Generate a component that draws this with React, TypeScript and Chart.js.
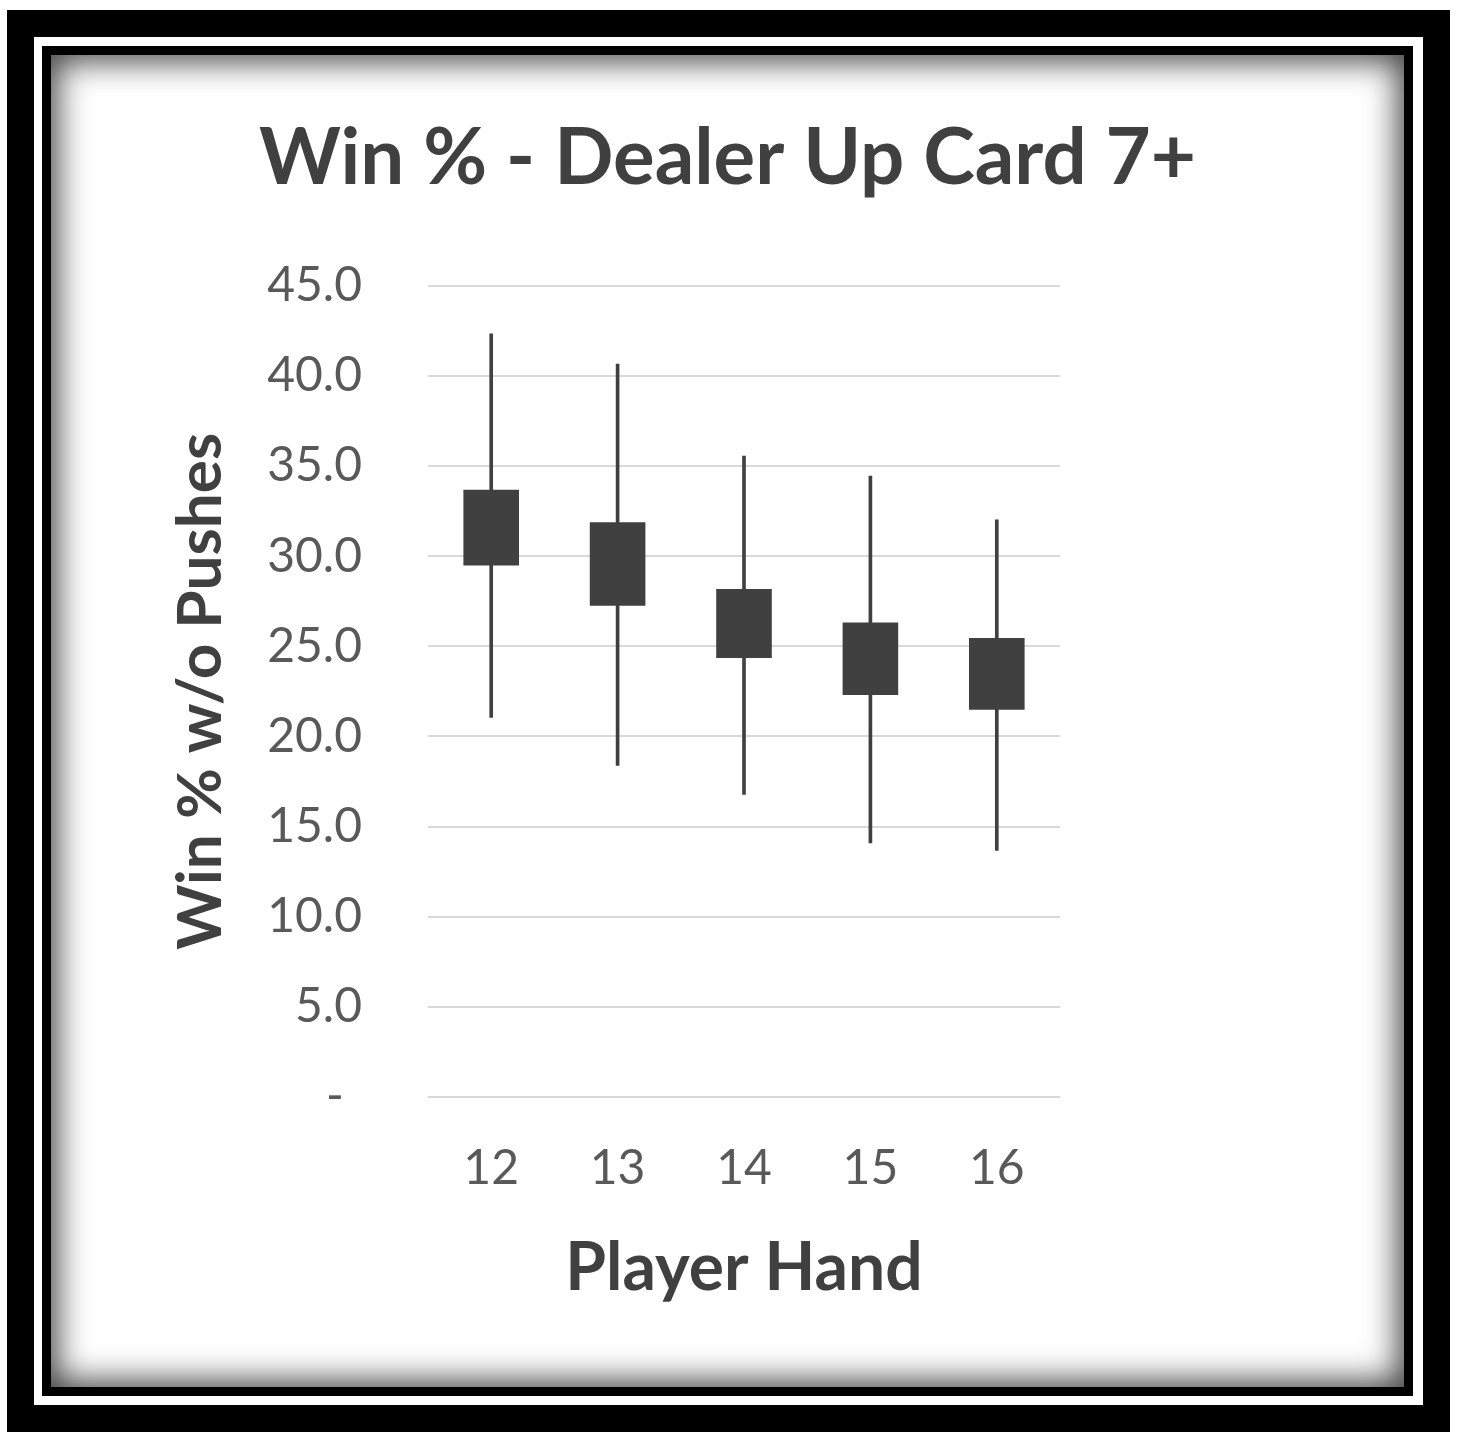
import { useEffect, useRef } from 'react';
import { Chart, registerables } from 'chart.js';

Chart.register(...registerables);

const hands = ['12', '13', '14', '15', '16'];
const boxLow = [29.47, 27.24, 24.34, 22.3, 21.48];
const boxHigh = [33.68, 31.88, 28.17, 26.31, 25.46];
const whiskerLow = [21.05, 18.39, 16.78, 14.09, 13.67];
const whiskerHigh = [42.32, 40.65, 35.55, 34.43, 32.01];

const INK = '#404040';
const TICK = '#595959';

function CandleChart() {
  const chartRef = useRef<HTMLCanvasElement>(null);
  const chartInstanceRef = useRef<Chart | null>(null);

  useEffect(() => {
    if (!chartRef.current) return;
    const ctx = chartRef.current.getContext('2d');
    if (!ctx) return;

    if (chartInstanceRef.current) {
      chartInstanceRef.current.destroy();
    }

    chartInstanceRef.current = new Chart(ctx, {
      type: 'bar',
      data: {
        labels: hands,
        datasets: [
          {
            label: 'Box',
            data: hands.map((_, i) => [boxLow[i], boxHigh[i]]),
            backgroundColor: INK,
            borderWidth: 0,
            barPercentage: 0.44,
            categoryPercentage: 1,
            grouped: false,
          },
          {
            label: 'Range',
            data: hands.map((_, i) => [whiskerLow[i], whiskerHigh[i]]),
            backgroundColor: INK,
            borderWidth: 0,
            barThickness: 3,
            grouped: false,
          },
        ],
      },
      options: {
        responsive: true,
        maintainAspectRatio: false,
        animation: false,
        layout: {
          padding: { left: 100, right: 100, top: 20, bottom: 40 },
        },
        plugins: {
          legend: { display: false },
          tooltip: { enabled: false },
          title: {
            display: true,
            text: 'Win % - Dealer Up Card 7+',
            color: INK,
            font: { family: 'Lato', size: 78, weight: 'bold' },
            padding: { top: 37, bottom: 80 },
          },
        },
        scales: {
          x: {
            grid: { display: false, drawTicks: false },
            border: { display: false },
            ticks: {
              color: TICK,
              padding: 43,
              font: { family: 'Lato', size: 48 },
            },
            title: {
              display: true,
              text: 'Player Hand',
              color: INK,
              font: { family: 'Lato', size: 66, weight: 'bold' },
              padding: { top: 0, bottom: 39 },
            },
            afterFit: (scale: any) => {
              scale.height = 250;
            },
          },
          y: {
            min: 0,
            max: 45,
            grid: { color: '#d9d9d9', lineWidth: 2, drawTicks: false },
            border: { display: false },
            ticks: {
              stepSize: 5,
              color: TICK,
              padding: 66,
              font: { family: 'Lato', size: 48 },
              // accounting style: zero shows as a dash
              callback: (value: any) => (Number(value) === 0 ? '-\u2009 ' : Number(value).toFixed(1)),
            },
            title: {
              display: true,
              text: 'Win % w/o Pushes',
              color: INK,
              font: { family: 'Lato', size: 62, weight: 'bold' },
              padding: { top: 13, bottom: 0 },
            },
            afterFit: (scale: any) => {
              scale.width = 277;
            },
          },
          // empty right-hand space, as in the original sheet
          yRight: {
            type: 'linear',
            position: 'right',
            display: true,
            grid: { display: false },
            border: { display: false },
            ticks: { display: false },
            afterFit: (scale: any) => {
              scale.width = 244;
            },
          },
        },
      },
    });

    return () => {
      if (chartInstanceRef.current) {
        chartInstanceRef.current.destroy();
        chartInstanceRef.current = null;
      }
    };
  }, []);

  return <canvas ref={chartRef} />;
}

export default function App() {
  return (
    <div
      style={{
        position: 'absolute',
        left: 0,
        top: 0,
        width: 1458,
        height: 1438,
        background: '#fff',
      }}
    >
      <div
        style={{
          position: 'absolute',
          left: 7,
          top: 10,
          width: 1443,
          height: 1422,
          border: '27px solid #000',
          boxSizing: 'border-box',
          background: '#fff',
        }}
      >
        <div
          style={{
            position: 'absolute',
            left: 8,
            top: 9,
            right: 10,
            bottom: 9,
            border: '9px solid #000',
            boxShadow: 'inset 0 0 32px 6px rgba(0,0,0,0.75)',
            background: '#fff',
          }}
        >
          <div style={{ position: 'absolute', inset: 0 }}>
            <CandleChart />
          </div>
        </div>
      </div>
    </div>
  );
}
